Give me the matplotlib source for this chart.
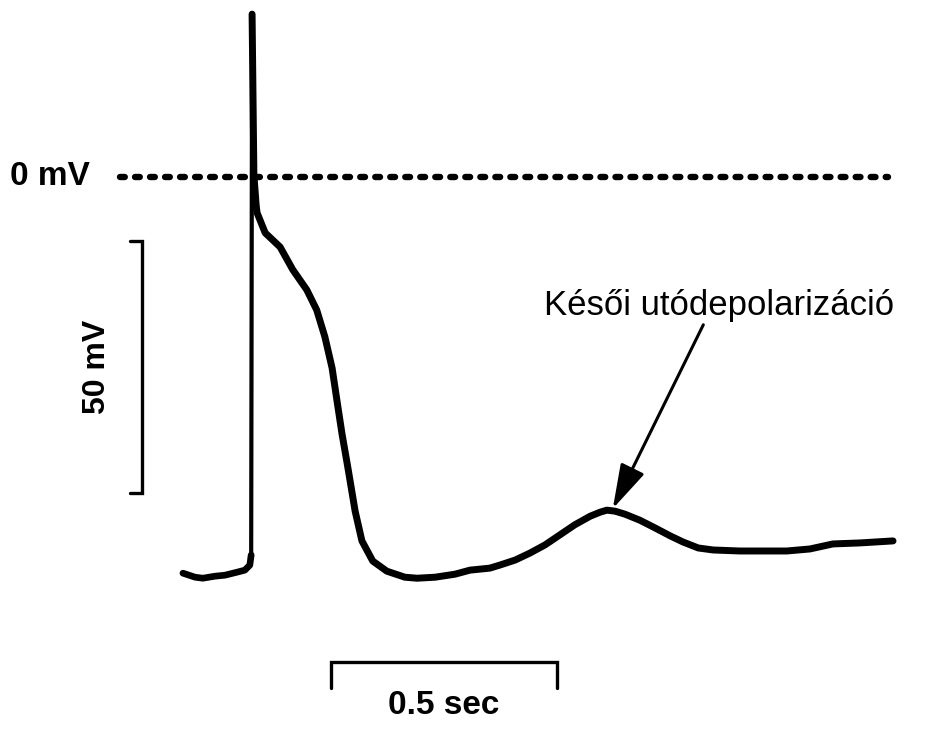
import matplotlib
matplotlib.use("Agg")
import matplotlib.pyplot as plt

plt.rcParams['font.family'] = ['Liberation Sans', 'DejaVu Sans']

# resting baseline before the upstroke (s, mV)
rest_t = [-0.155, -0.128, -0.111, -0.084, -0.062, -0.035, -0.018, -0.007, -0.004]
rest_v = [-78.6, -79.4, -79.6, -79.2, -79.0, -78.4, -78.0, -77.0, -75.0]

# upstroke
up_t = [-0.004, -0.002]
up_v = [-75.0, 32.3]

# repolarisation, then the late afterdepolarisation
ap_t = [-0.002, 0.002, 0.007, 0.009, 0.027, 0.060, 0.088, 0.119, 0.141, 0.159,
        0.175, 0.186, 0.197, 0.210, 0.226, 0.241, 0.265, 0.296, 0.336, 0.363,
        0.403, 0.447, 0.480, 0.524, 0.546, 0.580, 0.613, 0.646, 0.679, 0.712,
        0.746, 0.768, 0.783, 0.801, 0.823, 0.856, 0.889, 0.923, 0.951, 0.985,
        1.018, 1.077, 1.133, 1.181, 1.232, 1.283, 1.343, 1.416]
ap_v = [32.3, 0.4, -5.6, -7.1, -11.1, -13.9, -18.4, -22.4, -26.4, -31.7,
        -37.9, -44.5, -51.0, -57.7, -66.3, -72.2, -76.2, -78.2, -79.4, -79.6,
        -79.4, -78.8, -78.0, -77.6, -77.0, -76.0, -74.6, -73.0, -71.0, -69.0,
        -67.3, -66.5, -66.1, -66.3, -66.9, -68.1, -69.6, -71.2, -72.4, -73.6,
        -74.0, -74.2, -74.2, -74.2, -73.8, -72.8, -72.6, -72.2]

# scale bars
bar_mv = 50
bar_sec = 0.5

fig = plt.figure(figsize=(9.47, 7.36), dpi=100)
ax = fig.add_axes([0, 0, 1, 1])
ax.set_xlim(-0.5597, 1.5354)
ax.set_ylim(-110.9, 35.1)
ax.axis('off')

# 0 mV dotted reference
ax.plot([-0.294, 1.405], [0, 0], color='black', lw=4.6,
        dashes=(0.75, 1.6), dash_capstyle='round')
ax.text(-0.538, 0, '0 mV', fontsize=24, fontweight='bold', va='center', ha='left')

# trace
ax.plot(rest_t, rest_v, color='black', lw=4.8, solid_capstyle='round', solid_joinstyle='round')
ax.plot(up_t, up_v, color='black', lw=3.0, solid_capstyle='round')
ax.plot(ap_t, ap_v, color='black', lw=5.0, solid_capstyle='round', solid_joinstyle='round')

# vertical scale bar (50 mV)
vx = -0.245
vtop = -12.7
ax.plot([vx - 0.026, vx, vx, vx - 0.026], [vtop, vtop, vtop - bar_mv, vtop - bar_mv],
        color='black', lw=2.4, solid_capstyle='round', solid_joinstyle='miter')
ax.text(-0.345, vtop - bar_mv / 2, '50 mV', fontsize=23, fontweight='bold',
        rotation=90, ha='center', va='center')

# horizontal scale bar (0.5 sec)
hx = 0.1726
hy = -96.2
ax.plot([hx, hx, hx + bar_sec, hx + bar_sec], [hy - 5.2, hy, hy, hy - 5.2],
        color='black', lw=2.4, solid_capstyle='round', solid_joinstyle='miter')
ax.text(hx + bar_sec / 2, -104.8, '0.5 sec', fontsize=24, fontweight='bold',
        ha='center', va='center')

# annotation
ax.annotate('Késői utódepolarizáció', xy=(0.796, -65.8), xytext=(0.643, -25.5),
            fontsize=25, ha='left', va='center',
            arrowprops=dict(arrowstyle='-|>,head_length=1.1,head_width=0.32',
                            color='black', lw=2.2, shrinkA=0, shrinkB=0,
                            relpos=(0.46, 0)))

fig.savefig('out.png', dpi=100)
